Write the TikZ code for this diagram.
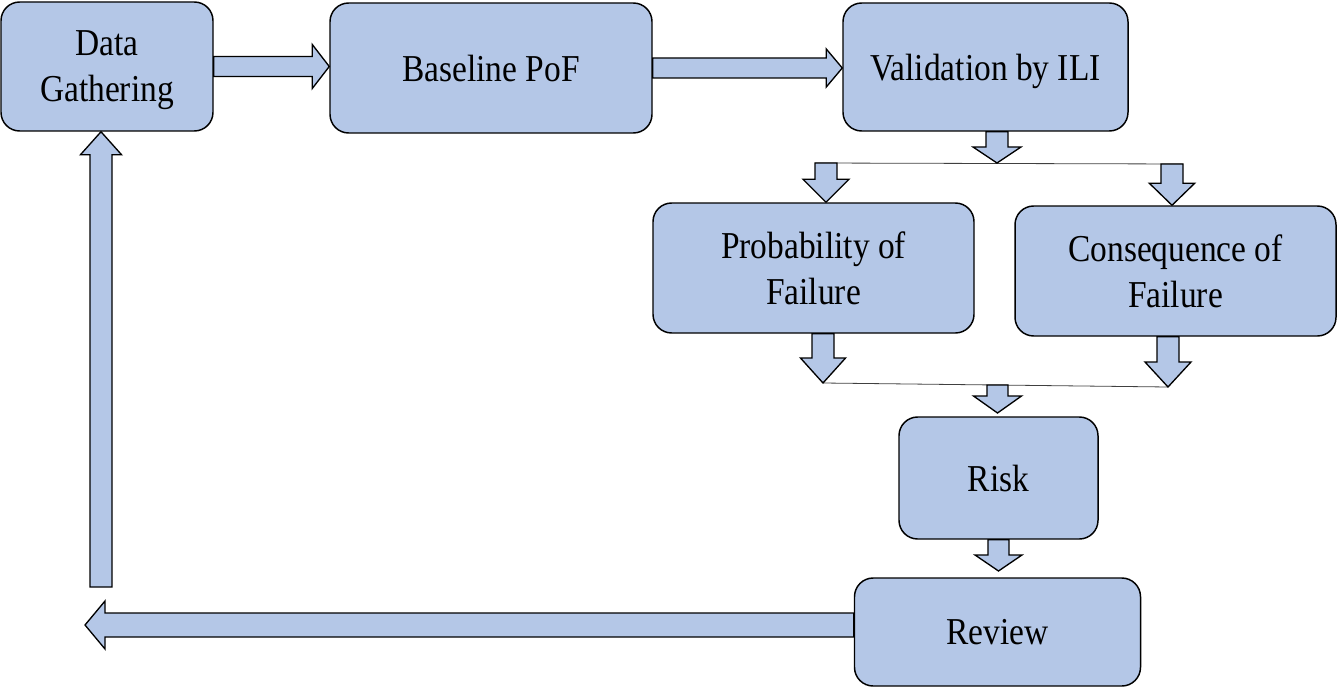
\documentclass[tikz,border=0pt]{standalone}
\usepackage{fontspec}
\setmainfont{Liberation Serif}[FakeStretch=0.88]
\usetikzlibrary{calc}
\definecolor{boxblue}{HTML}{B4C7E7}
\tikzset{
  stage/.style={draw=black, fill=boxblue, line width=1.1pt, rounded corners=14pt,
    align=center, inner sep=0pt, text depth=0pt, font=\fontsize{28.5}{34.5}\selectfont},
  blockarrow/.style n args={3}{draw=black, fill=boxblue, line width=1pt, line join=miter,
    to path={-- ($(\tikztostart)!#1!90:(\tikztotarget)$)
      -- ($($(\tikztotarget)!#3!(\tikztostart)$)!#1!90:(\tikztotarget)$)
      -- ($($(\tikztotarget)!#3!(\tikztostart)$)!#2!90:(\tikztotarget)$)
      -- (\tikztotarget)
      -- ($($(\tikztotarget)!#3!(\tikztostart)$)!#2!-90:(\tikztotarget)$)
      -- ($($(\tikztotarget)!#3!(\tikztostart)$)!#1!-90:(\tikztotarget)$)
      -- ($(\tikztostart)!#1!-90:(\tikztotarget)$) -- cycle}},
  splitline/.style={line width=0.6pt, draw=black!75}
}
\begin{document}
\begin{tikzpicture}[x=0.75pt,y=-0.75pt]
  \useasboundingbox (0,0) rectangle (1337,688);
  \node[stage, minimum width=159pt, minimum height=96.75pt] (dg) at (107,66.5) {Data\\Gathering};
  \node[stage, minimum width=241.5pt, minimum height=97.5pt] (bpof) at (491,68) {Baseline PoF};
  \node[stage, minimum width=213.75pt, minimum height=96pt] (val) at (985.5,67) {Validation by ILI};
  \node[stage, minimum width=240.75pt, minimum height=97.5pt] (pof) at (813.5,268) {Probability of\\Failure};
  \node[stage, minimum width=240.75pt, minimum height=97.5pt] (cof) at (1175.5,271) {Consequence of\\Failure};
  \node[stage, minimum width=149.25pt, minimum height=91.5pt] (risk) at (998.5,478) {Risk};
  \node[stage, minimum width=214.5pt, minimum height=81pt] (review) at (997.5,632) {Review};

  \coordinate (fork1) at (997,163);
  \coordinate (fork1l) at (815,163);
  \coordinate (fork1r) at (1183,164);
  \coordinate (fork1a) at (826,163);
  \coordinate (fork1b) at (1172,164);
  \coordinate (join1a) at (823,383);
  \coordinate (join1b) at (1168,387);
  \coordinate (join1) at (997.5,385);
  \coordinate (riskin) at (997.5,413);
  \coordinate (revin) at (998.5,571);
  \coordinate (loopl) at (85,625);
  \coordinate (loopb) at (101,587);

  \draw[splitline] (fork1l) -- (fork1r);
  \draw[splitline] (join1a) -- (join1b);

  \draw[blockarrow={7.5pt}{16.5pt}{12.75pt}] (dg.east) to (dg.east -| bpof.west);
  \draw[blockarrow={7.5pt}{14.25pt}{12pt}] (bpof.east) to (bpof.east -| val.west);
  \draw[blockarrow={8.25pt}{18pt}{12pt}] (val.south -| fork1) to (fork1);
  \draw[blockarrow={8.25pt}{17.25pt}{17.25pt}] (fork1a) to (fork1a |- pof.north);
  \draw[blockarrow={8.25pt}{17pt}{16.5pt}] (fork1b) to (fork1b |- cof.north);
  \draw[blockarrow={8.25pt}{16.9pt}{18.75pt}] (pof.south -| join1a) to (join1a);
  \draw[blockarrow={8.25pt}{17.25pt}{18.75pt}] (cof.south -| join1b) to (join1b);
  \draw[blockarrow={7.9pt}{18pt}{12.75pt}] (join1) to (riskin);
  \draw[blockarrow={7.9pt}{17.6pt}{12pt}] (risk.south) to (revin);
  \draw[blockarrow={9pt}{18pt}{15pt}] (review.west |- loopl) to (loopl);
  \draw[blockarrow={8.25pt}{15.4pt}{17.25pt}] (loopb) to (loopb |- dg.south);
\end{tikzpicture}
\end{document}
